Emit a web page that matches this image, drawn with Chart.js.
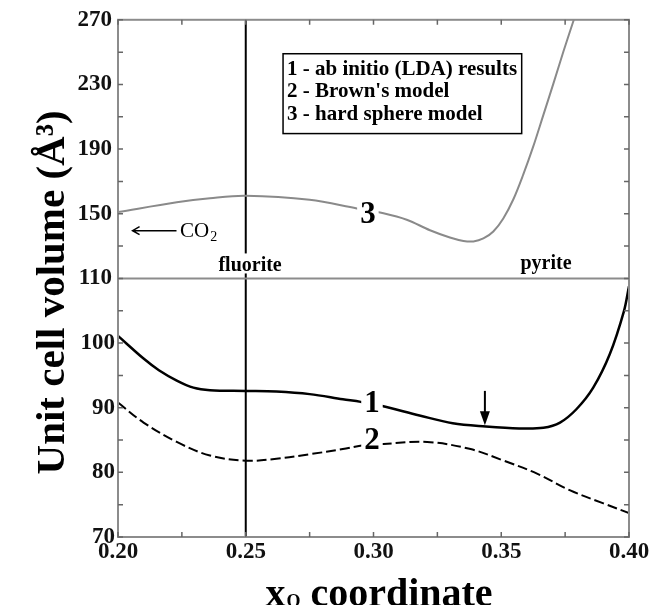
<!DOCTYPE html>
<html>
<head>
<meta charset="utf-8">
<script src="https://cdn.jsdelivr.net/npm/chart.js@4.4.1/dist/chart.umd.min.js"></script>
<style>
  html, body { margin: 0; padding: 0; background: #fff; }
  canvas { display: block; }
</style>
</head>
<body>
<canvas id="volChart" width="654" height="605"></canvas>
<script>
// --- values ---
// curve 1 : ab initio (LDA), lower panel
const abInitioX = [0.200, 0.210, 0.216, 0.223, 0.2295, 0.236, 0.250, 0.262, 0.275, 0.288, 0.295, 0.303, 0.318, 0.331, 0.344, 0.357, 0.3665, 0.373, 0.3795, 0.386, 0.3925, 0.398, 0.400];
const abInitioV = [101.1, 97.6, 95.8, 94.2, 93.1, 92.7, 92.6, 92.5, 92.1, 91.3, 90.9, 90.3, 88.8, 87.6, 87.1, 86.8, 86.9, 87.7, 89.8, 93.1, 98.3, 104.9, 108.8];

// curve 2 : Brown's model, lower panel
const brownX = [0.200, 0.210, 0.223, 0.236, 0.250, 0.262, 0.275, 0.288, 0.296, 0.304, 0.321, 0.338, 0.351, 0.364, 0.377, 0.390, 0.400];
const brownV = [90.8, 87.7, 84.7, 82.6, 81.8, 82.1, 82.8, 83.6, 84.2, 84.4, 84.7, 83.6, 81.8, 79.8, 77.2, 75.2, 73.7];

// curve 3 : hard sphere model, upper panel
const hardSphereX = [0.200, 0.223, 0.236, 0.250, 0.275, 0.2935, 0.3039, 0.3130, 0.3221, 0.3299, 0.3352, 0.3391, 0.343, 0.3469, 0.3508, 0.3547, 0.3586, 0.3625, 0.3664, 0.3704, 0.3743, 0.3784];
const hardSphereV = [151.0, 157.1, 159.6, 161.1, 158.6, 153.3, 150.3, 146.3, 139.8, 135.3, 133.2, 132.9, 134.7, 139.0, 147.1, 158.8, 174.2, 191.5, 210.7, 230.5, 250.2, 270.0];

// axis ticks
const xTickLabels = ['0.20', '0.25', '0.30', '0.35', '0.40'];
const lowTickLabels = [70, 80, 90, 100];
const highTickLabels = [110, 150, 190, 230, 270];

const legendLines = ['1 - ab initio (LDA) results', "2 - Brown's model", '3 - hard sphere model'];

const SERIF = "'Liberation Serif', 'Times New Roman', serif";

function pts(xs, vs) {
    return xs.map((x, i) => ({ x: x, y: vs[i] }));
}

// white box behind a label, then the label
function boxedText(ctx, text, x, y, font) {
    ctx.font = font;
    const w = ctx.measureText(text).width;
    ctx.fillStyle = '#fff';
    ctx.fillRect(x - w / 2 - 3, y - 11, w + 6, 22);
    ctx.fillStyle = '#000';
    ctx.textAlign = 'center';
    ctx.textBaseline = 'middle';
    ctx.fillText(text, x, y);
}

const decor = {
    id: 'decor',
    beforeDatasetsDraw(chart) {
        const { ctx, chartArea: a, scales } = chart;
        const xf = scales.x.getPixelForValue(0.25);
        ctx.save();
        ctx.strokeStyle = '#000';
        ctx.lineWidth = 2;
        ctx.beginPath();
        ctx.moveTo(xf, a.top);
        ctx.lineTo(xf, a.bottom);
        ctx.stroke();
        ctx.restore();
    },
    afterDatasetsDraw(chart) {
        const { ctx, chartArea: a, scales } = chart;
        const xs = scales.x, lo = scales.yLow, hi = scales.yHigh;
        const X = v => xs.getPixelForValue(v);
        ctx.save();

        // frame + break line at 110
        ctx.strokeStyle = '#8c8c8c';
        ctx.lineWidth = 2;
        ctx.strokeRect(a.left, a.top, a.right - a.left, a.bottom - a.top);
        const y110 = hi.getPixelForValue(110);
        ctx.beginPath();
        ctx.moveTo(a.left, y110);
        ctx.lineTo(a.right, y110);
        ctx.stroke();

        // inward ticks
        ctx.lineWidth = 1.5;
        ctx.strokeStyle = '#666';
        ctx.beginPath();
        [lo, hi].forEach(s => s.ticks.forEach(t => {
            const y = s.getPixelForValue(t.value);
            ctx.moveTo(a.left, y); ctx.lineTo(a.left + 5, y);
            ctx.moveTo(a.right, y); ctx.lineTo(a.right - 5, y);
        }));
        xs.ticks.forEach(t => {
            const x = X(t.value);
            ctx.moveTo(x, a.top); ctx.lineTo(x, a.top + 5);
            ctx.moveTo(x, a.bottom); ctx.lineTo(x, a.bottom - 5);
        });
        ctx.stroke();

        // phase names
        ctx.font = 'bold 20px ' + SERIF;
        ctx.textAlign = 'center';
        ctx.textBaseline = 'alphabetic';
        const fx = X(0.2517), fy = hi.getPixelForValue(114.3);
        const fw = ctx.measureText('fluorite').width;
        ctx.fillStyle = '#fff';
        ctx.fillRect(fx - fw / 2 - 2, fy - 18, fw + 4, 20);
        ctx.fillStyle = '#000';
        ctx.fillText('fluorite', fx, fy);
        ctx.fillText('pyrite', X(0.3675), hi.getPixelForValue(115.6));

        // CO2 arrow
        const ay = hi.getPixelForValue(139.5);
        const ax0 = X(0.2057), ax1 = X(0.2229);
        ctx.strokeStyle = '#000';
        ctx.lineWidth = 1.5;
        ctx.beginPath();
        ctx.moveTo(ax1, ay); ctx.lineTo(ax0, ay);
        ctx.moveTo(ax0 + 7, ay - 4); ctx.lineTo(ax0, ay); ctx.lineTo(ax0 + 7, ay + 4);
        ctx.stroke();
        ctx.textAlign = 'left';
        ctx.font = '21px ' + SERIF;
        const cx = X(0.2243), cy = hi.getPixelForValue(135.9);
        ctx.fillText('CO', cx, cy);
        const cw = ctx.measureText('CO').width;
        ctx.font = '14px ' + SERIF;
        ctx.fillText('2', cx + cw + 1, cy + 4);

        // legend box
        const lx0 = X(0.2646), lx1 = X(0.358);
        const ly0 = hi.getPixelForValue(249), ly1 = hi.getPixelForValue(199.6);
        ctx.fillStyle = '#fff';
        ctx.fillRect(lx0, ly0, lx1 - lx0, ly1 - ly0);
        ctx.strokeStyle = '#000';
        ctx.lineWidth = 1.5;
        ctx.strokeRect(lx0, ly0, lx1 - lx0, ly1 - ly0);
        ctx.fillStyle = '#000';
        ctx.font = 'bold 21px ' + SERIF;
        legendLines.forEach((line, i) => {
            ctx.fillText(line, lx0 + 4, ly0 + 21 + i * 22.5);
        });

        // curve numbers
        const numFont = 'bold 31px ' + SERIF;
        boxedText(ctx, '3', X(0.2978), hi.getPixelForValue(149.5), numFont);
        boxedText(ctx, '1', X(0.2994), lo.getPixelForValue(90.6), numFont);
        boxedText(ctx, '2', X(0.2994), lo.getPixelForValue(84.8), numFont);

        // arrow pointing at curve 1
        const dx = X(0.3436);
        const dTop = lo.getPixelForValue(92.6), dTip = lo.getPixelForValue(87.3);
        ctx.lineWidth = 2;
        ctx.beginPath();
        ctx.moveTo(dx, dTop); ctx.lineTo(dx, dTip - 10);
        ctx.stroke();
        ctx.beginPath();
        ctx.moveTo(dx - 5, dTip - 14); ctx.lineTo(dx + 5, dTip - 14); ctx.lineTo(dx, dTip);
        ctx.closePath();
        ctx.fill();

        // y axis title
        ctx.save();
        ctx.translate(53, (a.top + a.bottom) / 2 + 14);
        ctx.rotate(-Math.PI / 2);
        ctx.font = 'bold 41px ' + SERIF;
        ctx.textAlign = 'center';
        ctx.fillText('Unit cell volume (Å³)', 0, 0);
        ctx.restore();

        // x axis title : x_O coordinate
        const big = 'bold 40px ' + SERIF, small = 'bold 18px ' + SERIF;
        ctx.font = big;
        const w1 = ctx.measureText('x').width;
        const w3 = ctx.measureText(' coordinate').width;
        ctx.font = small;
        const w2 = ctx.measureText('O').width;
        let tx = (a.left + a.right) / 2 + 5 - (w1 + w2 + w3) / 2;
        const ty = a.bottom + 59;
        ctx.textAlign = 'left';
        ctx.font = big;
        ctx.fillText('x', tx, ty);
        ctx.font = small;
        ctx.fillText('O', tx + w1 + 1, ty + 6);
        ctx.font = big;
        ctx.fillText(' coordinate', tx + w1 + w2 + 1, ty);

        ctx.restore();
    }
};

const tickFont = { family: SERIF, size: 23, weight: 'bold' };

new Chart(document.getElementById('volChart'), {
    type: 'line',
    data: {
        datasets: [
            {
                label: 'ab initio (LDA)',
                data: pts(abInitioX, abInitioV),
                yAxisID: 'yLow',
                borderColor: '#000',
                borderWidth: 2.5,
                pointRadius: 0,
                tension: 0.35
            },
            {
                label: "Brown's model",
                data: pts(brownX, brownV),
                yAxisID: 'yLow',
                borderColor: '#000',
                borderWidth: 2,
                borderDash: [10, 4],
                pointRadius: 0,
                tension: 0.35
            },
            {
                label: 'hard sphere model',
                data: pts(hardSphereX, hardSphereV),
                yAxisID: 'yHigh',
                borderColor: '#8a8a8a',
                borderWidth: 2,
                pointRadius: 0,
                tension: 0.35
            }
        ]
    },
    options: {
        responsive: false,
        animation: false,
        events: [],
        layout: { padding: { left: 0, right: 25, top: 18, bottom: 0 } },
        plugins: { legend: { display: false }, tooltip: { enabled: false } },
        scales: {
            x: {
                type: 'linear',
                min: 0.2,
                max: 0.4,
                grid: { display: false, drawTicks: false },
                border: { display: false },
                ticks: {
                    stepSize: 0.025,
                    autoSkip: false,
                    maxRotation: 0,
                    padding: 1,
                    color: '#111',
                    font: tickFont,
                    callback: v => {
                        const s = Number(v).toFixed(3);
                        const lab = Number(v).toFixed(2);
                        return s.endsWith('0') && xTickLabels.includes(lab) ? lab : '';
                    }
                },
                afterFit: s => { s.height = 68; }
            },
            yHigh: {
                type: 'linear',
                position: 'left',
                stack: 'vol',
                stackWeight: 1,
                weight: 1,
                min: 110,
                max: 270,
                grid: { display: false, drawTicks: false },
                border: { display: false },
                ticks: {
                    stepSize: 20,
                    autoSkip: false,
                    padding: 6,
                    color: '#111',
                    font: tickFont,
                    callback: v => highTickLabels.includes(v) ? String(v) : ''
                },
                afterFit: s => { s.width = 118; }
            },
            yLow: {
                type: 'linear',
                position: 'left',
                stack: 'vol',
                stackWeight: 1,
                weight: 0,
                min: 70,
                max: 110,
                grid: { display: false, drawTicks: false },
                border: { display: false },
                ticks: {
                    stepSize: 5,
                    autoSkip: false,
                    padding: 3,
                    color: '#111',
                    font: tickFont,
                    callback: v => lowTickLabels.includes(v) ? String(v) : ''
                },
                afterFit: s => { s.width = 118; }
            }
        }
    },
    plugins: [decor]
});
</script>
</body>
</html>
